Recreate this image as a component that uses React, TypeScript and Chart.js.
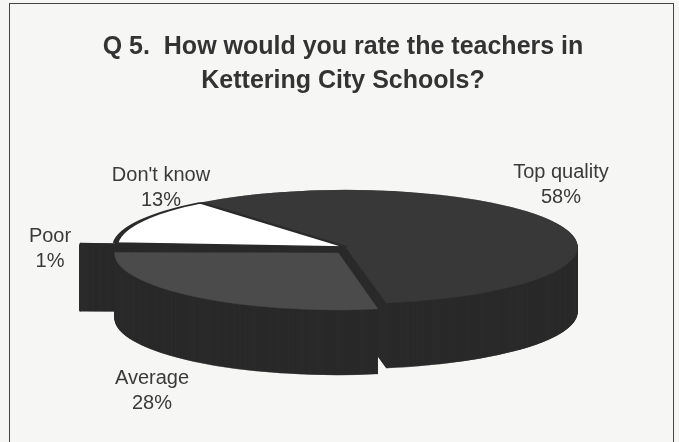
import React, { useEffect, useRef } from "react";
import { Chart, registerables } from "chart.js";

Chart.register(...registerables);

const categories = ["Top quality", "Average", "Poor", "Don't know"];
const values = [58, 28, 1, 13];
const titleLines = ["Q 5.  How would you rate the teachers in", "Kettering City Schools?"];

const faceColors = ["#383838", "#4b4b4b", "#2a2a2a", "#ffffff"];
const wallColor = "#2b2b2b";
const labelCentres = [[561, 172], [152, 378], [50, 236], [161, 175]];
const sliceShift = [[0, 0], [-8, 6], [-35, 0], [0, 0]];
const sliceScale = [1, 0.965, 1, 1];
const pieCentre = [346, 247];
const pieRadius = [231, 57];
const pieDepth = 65;

const pie3d = {
  id: "pie3d",
  beforeDatasetsDraw(chart: any) {
    const ctx = chart.ctx;
    const arcs = chart.getDatasetMeta(0).data;
    const R = arcs[0].outerRadius;
    const sx = pieRadius[0] / R;
    const sy = pieRadius[1] / R;
    const paint = (i: number, dy: number, colour: string | null) => {
      const el = arcs[i];
      const original = el.options;
      ctx.save();
      ctx.translate(pieCentre[0] + sliceShift[i][0], pieCentre[1] + sliceShift[i][1] + dy);
      ctx.scale(sx * sliceScale[i], sy);
      ctx.translate(-el.x, -el.y);
      if (colour) {
        const o = Object.create(original);
        o.backgroundColor = colour;
        o.borderColor = colour;
        o.borderWidth = 1;
        el.options = o;
      }
      el.draw(ctx);
      el.options = original;
      ctx.restore();
    };
    const order = [2, 0, 3, 1];
    for (const i of order) {
      for (let d = pieDepth; d > 0; d -= 0.5) paint(i, d, wallColor);
    }
    for (const i of order) paint(i, 0, null);
    return false;
  },
  afterDraw(chart: any) {
    const ctx = chart.ctx;
    ctx.save();
    ctx.fillStyle = "#3a3a3a";
    ctx.font = '20px "Liberation Sans"';
    ctx.textAlign = "center";
    ctx.textBaseline = "middle";
    categories.forEach((c, i) => {
      ctx.fillText(c, labelCentres[i][0], labelCentres[i][1]);
      ctx.fillText(values[i] + "%", labelCentres[i][0], labelCentres[i][1] + 25);
    });
    ctx.restore();
  },
};

export default function App() {
  const ref = useRef<HTMLCanvasElement>(null);
  useEffect(() => {
    document.body.style.margin = "0";
    const chart = new Chart(ref.current!, {
      type: "pie",
      data: {
        labels: categories,
        datasets: [
          {
            data: values,
            backgroundColor: faceColors,
            borderColor: ["#383838", "#4b4b4b", "#2a2a2a", "#2a2a2a"],
            borderWidth: [1, 1, 1, 4],
            clip: false,
          } as any,
        ],
      },
      options: {
        responsive: false,
        animation: false,
        rotation: 321,
        layout: { padding: { left: 7, right: 0, top: 0, bottom: 0 } },
        plugins: {
          legend: { display: false },
          tooltip: { enabled: false },
          title: {
            display: true,
            text: titleLines,
            color: "#333333",
            font: { family: '"Liberation Sans"', size: 25, weight: "bold", lineHeight: 1.36 },
            padding: { top: 30, bottom: 10 },
          },
        },
      },
      plugins: [pie3d],
    } as any);
    return () => chart.destroy();
  }, []);
  return (
    <div
      style={{
        position: "absolute",
        left: 0,
        top: 0,
        width: 679,
        height: 442,
        overflow: "hidden",
        background: "#f6f6f5",
      }}
    >
      <div
        style={{
          position: "absolute",
          left: 9,
          top: 3,
          width: 665,
          height: 460,
          border: "1.5px solid #444",
          boxSizing: "border-box",
        }}
      />
      <canvas
        ref={ref}
        width={679}
        height={442}
        style={{ position: "absolute", left: 0, top: 0, filter: "blur(0.5px)" }}
      />
    </div>
  );
}
